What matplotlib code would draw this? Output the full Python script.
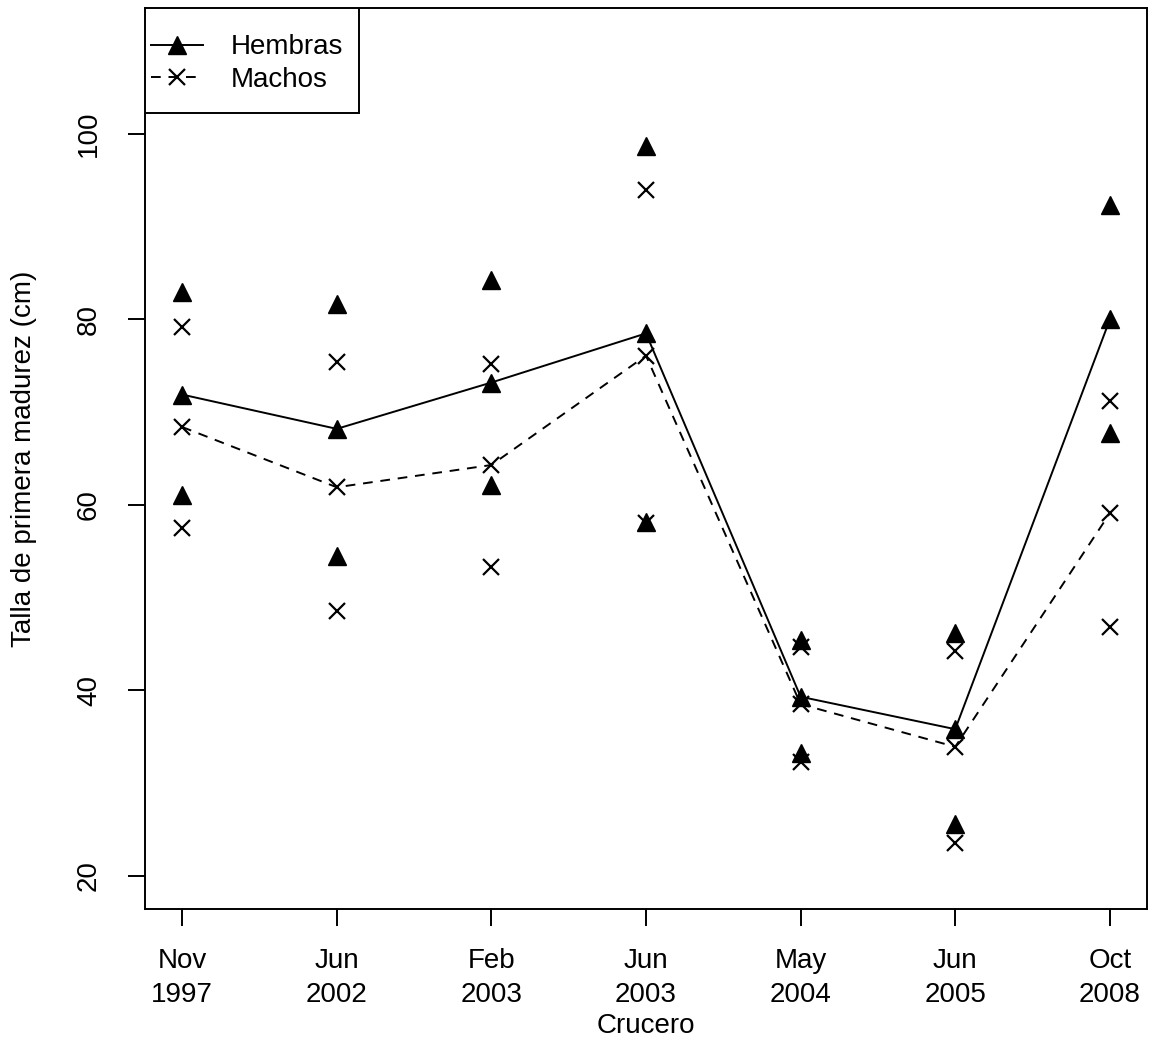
import numpy as np
import matplotlib
matplotlib.use("Agg")
from matplotlib import pyplot as plt
from matplotlib.patches import Rectangle

plt.rcParams['font.family'] = ['Liberation Sans', 'DejaVu Sans']

# Cruceros
cruceros = ["Nov\n1997", "Jun\n2002", "Feb\n2003", "Jun\n2003", "May\n2004", "Jun\n2005", "Oct\n2008"]

# Hembras: estimacion central y limites
hembras = [71.9, 68.2, 73.2, 78.5, 39.3, 35.8, 80.0]
hembras_sup = [83.0, 81.7, 84.3, 98.7, 45.4, 46.2, 92.3]
hembras_inf = [61.1, 54.5, 62.1, 58.1, 33.2, 25.6, 67.7]

# Machos: estimacion central y limites
machos = [68.4, 61.9, 64.3, 76.1, 38.5, 33.9, 59.1]
machos_sup = [79.2, 75.4, 75.2, 94.0, 44.7, 44.2, 71.2]
machos_inf = [57.5, 48.5, 53.3, 58.0, 32.3, 23.5, 46.8]

x = np.arange(1, len(cruceros) + 1)

fig = plt.figure(figsize=(11.51, 10.44), dpi=100)
ax = fig.add_axes([0.126, 0.1293, 0.8705, 0.863])

tri = dict(marker='^', markersize=13, color='black')
cruz = dict(marker='x', markersize=11.5, markeredgewidth=1.6, color='black')

ax.plot(x, hembras, linestyle='-', linewidth=1.4, label='Hembras', **tri)
ax.plot(x, machos, linestyle=(0, (5, 4)), linewidth=1.4, label='Machos', **cruz)
ax.plot(x, hembras_sup, linestyle='none', **tri)
ax.plot(x, hembras_inf, linestyle='none', **tri)
ax.plot(x, machos_sup, linestyle='none', **cruz)
ax.plot(x, machos_inf, linestyle='none', **cruz)

ax.set_xlim(0.76, 7.24)
ax.set_ylim(16.4, 113.6)
ax.set_xticks(x)
ax.set_xticklabels(cruceros, fontsize=20, linespacing=1.4)
ax.set_yticks([20, 40, 60, 80, 100])
ax.set_yticklabels(['20', '40', '60', '80', '100'], fontsize=20, rotation=90, va='center')
ax.tick_params(axis='both', direction='out', length=12, width=1.4)
ax.tick_params(axis='y', pad=19)
ax.tick_params(axis='x', pad=16)
for s in ax.spines.values():
    s.set_linewidth(1.4)

ax.set_xlabel('Crucero', fontsize=20, labelpad=4)
ax.set_ylabel('Talla de primera madurez (cm)', fontsize=20, labelpad=28)

# caja de la leyenda (mas alta que ancha de margen, como en R)
caja = Rectangle((0, 1 - 0.1165), 0.2136, 0.1165, transform=ax.transAxes,
                 facecolor='white', edgecolor='black', linewidth=1.4, zorder=4)
ax.add_patch(caja)
leg = ax.legend(loc='upper left', bbox_to_anchor=(0.0, 0.977), borderaxespad=0,
                fontsize=20, frameon=False, handlelength=1.9, handletextpad=1.0,
                labelspacing=0.24, borderpad=0.2)
leg.set_zorder(5)

fig.savefig('out.png', dpi=100)
